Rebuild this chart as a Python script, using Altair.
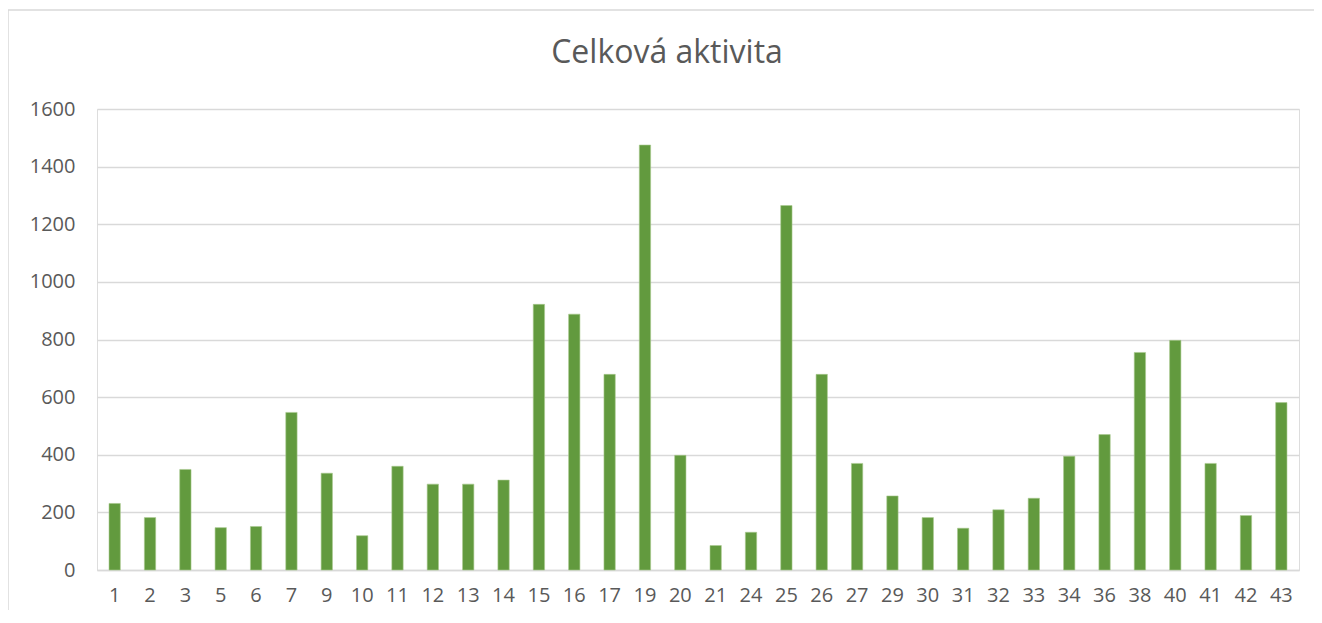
import altair as alt
import pandas as pd

categories = ["1", "2", "3", "5", "6", "7", "9", "10", "11", "12", "13", "14", "15", "16", "17",
              "19", "20", "21", "24", "25", "26", "27", "29", "30", "31", "32", "33", "34", "36",
              "38", "40", "41", "42", "43"]
values = [231, 182, 349, 147, 151, 547, 336, 119, 360, 298, 298, 312, 922, 888, 679,
          1475, 398, 85, 131, 1265, 679, 370, 257, 182, 145, 209, 249, 395, 470,
          755, 797, 370, 189, 581]
y_ticks = [0, 200, 400, 600, 800, 1000, 1200, 1400, 1600]

df = pd.DataFrame({"cat": categories, "val": values})

FONT = "Open Sans"
TXT = "#595959"

bars = alt.Chart(df).mark_bar(color="#629a3e", stroke="#a9c98f", strokeWidth=0.6).encode(
    x=alt.X("cat:N", sort=categories,
            scale=alt.Scale(paddingInner=0.68, paddingOuter=0.34),
            axis=alt.Axis(title=None, labelAngle=0, ticks=False, domain=True,
                          domainColor="#d9d9d9", domainWidth=1.5,
                          labelFont=FONT, labelFontSize=20, labelColor=TXT,
                          labelPadding=15)),
    y=alt.Y("val:Q", scale=alt.Scale(domain=[0, 1600], nice=False),
            axis=alt.Axis(title=None, values=y_ticks, ticks=False, domain=False,
                          grid=True, gridColor="#d9d9d9", gridWidth=1.5, format="d",
                          labelFont=FONT, labelFontSize=20, labelColor=TXT,
                          labelPadding=22)),
)

one = pd.DataFrame({"k": [0]})
frame_top = alt.Chart(one).mark_rule(color="#d9d9d9", strokeWidth=1.5).encode(
    x=alt.value(-89), x2=alt.value(1240), y=alt.value(-99)
)
frame_left = alt.Chart(one).mark_rule(color="#d9d9d9", strokeWidth=1.5).encode(
    x=alt.value(-89), y=alt.value(-99), y2=alt.value(540)
)

chart = alt.layer(frame_top, frame_left, bars).properties(
    width=1202,
    height=461,
    title=alt.Title("Celková aktivita", font=FONT, fontSize=32, color=TXT,
                    fontWeight="normal", anchor="middle", frame="group",
                    baseline="alphabetic", dx=-31, offset=-86),
    autosize=alt.AutoSizeParams(type="none"),
    padding={"left": 89, "top": 101, "right": 15, "bottom": 40},
).configure_view(stroke=None).configure(background="white")

chart.save("out.html", embed_options={"renderer": "svg", "actions": False})
